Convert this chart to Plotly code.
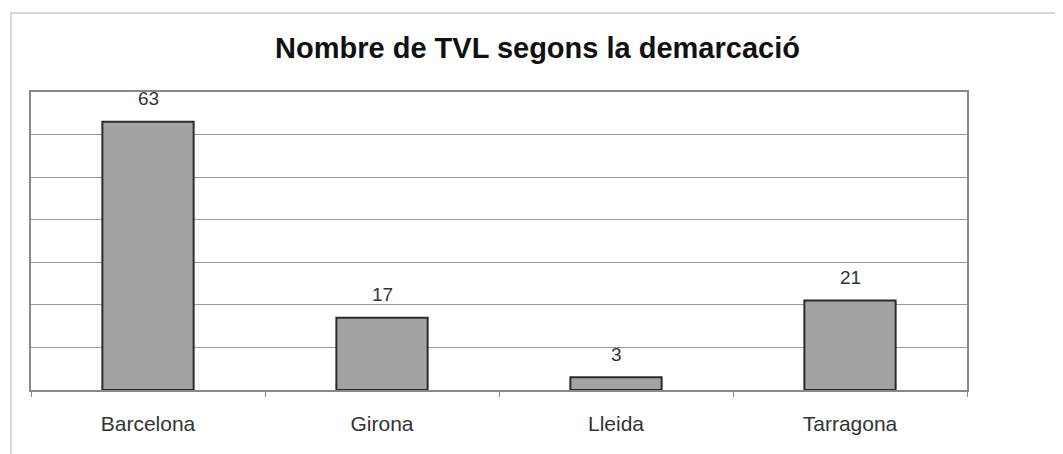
import plotly.graph_objects as go

categories = ["Barcelona", "Girona", "Lleida", "Tarragona"]
values = [63, 17, 3, 21]
title_text = "Nombre de TVL segons la demarcació"

FONT = "Liberation Sans, Arial, sans-serif"

fig = go.Figure()
fig.add_trace(go.Bar(
    x=categories, y=values,
    marker=dict(color="#a3a3a3", line=dict(color="#2b2b2b", width=2)),
    width=0.39,
    cliponaxis=False,
))

annotations = [
    dict(x=c, y=v, xref="x", yref="y", text=str(v), showarrow=False,
         yanchor="middle", yshift=23,
         font=dict(family=FONT, size=19, color="#333"))
    for c, v in zip(categories, values)
]

# page has an 8px body margin; figure is sized/offset to compensate
W, H = 1055, 446
fig.update_layout(
    width=W, height=H,
    margin=dict(l=23, r=96, t=84, b=64),
    paper_bgcolor="white", plot_bgcolor="white",
    showlegend=False,
    title=dict(text="<b>" + title_text + "</b>", x=529.5 / W, xref="container",
               xanchor="center",
               y=1 - 40 / H, yref="container", yanchor="middle",
               font=dict(family=FONT, size=29, color="#111")),
    xaxis=dict(
        showline=True, linecolor="#888888", linewidth=2, mirror=True,
        ticks="outside", tickson="boundaries", ticklen=5, tickcolor="#888888",
        tickfont=dict(family=FONT, size=21, color="#333"),
        ticklabelstandoff=14,
        showgrid=False,
    ),
    yaxis=dict(
        range=[0, 70], dtick=10, showticklabels=False,
        showgrid=True, gridcolor="#9a9a9a", gridwidth=1,
        showline=True, linecolor="#888888", linewidth=2, mirror=True,
        zeroline=False, ticks="",
    ),
    annotations=annotations,
    shapes=[dict(type="rect", xref="paper", yref="paper",
                 x0=(3 - 23) / 936, x1=(1070 - 23) / 936,
                 y0=(382 - 460) / 298, y1=(382 - 5) / 298,
                 line=dict(color="#d8d8d8", width=2), fillcolor="rgba(0,0,0,0)",
                 layer="below")],
)

fig.write_html("out.html")
